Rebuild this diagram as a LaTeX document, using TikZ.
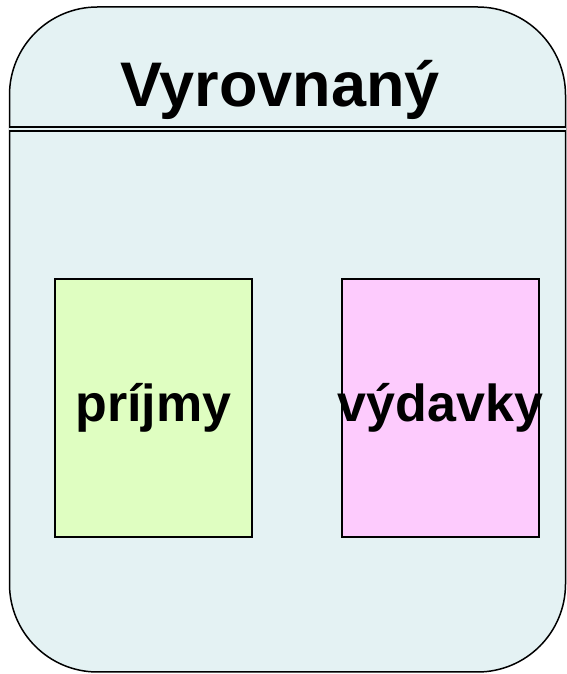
\documentclass[tikz,border=0pt]{standalone}
\usepackage{fontspec}
\setmainfont{Liberation Sans}
\usepackage{tikz}
\definecolor{panelbg}{HTML}{E4F2F3}
\definecolor{incomebg}{HTML}{DFFEC1}
\definecolor{spendbg}{HTML}{FDCBFD}
\newcommand{\boxtext}[1]{\makebox[0pt]{#1}}
\begin{document}
\begin{tikzpicture}[x=1pt,y=1pt,
    panel/.style={draw=black,line width=1.5pt,fill=panelbg,
      rounded corners=88pt,minimum width=556pt,minimum height=665pt,
      inner sep=0pt},
    budgetbox/.style={draw=black,line width=1.2pt,minimum width=197pt,
      minimum height=258pt,inner sep=0pt,font=\fontsize{52}{60}\selectfont\bfseries},
    divider/.style={line width=1.4pt,double=panelbg,double distance=2.6pt}]
    \useasboundingbox (0,0) rectangle (566,674);
    \node[panel] (P) at (287.5,334.5) {};
    \node[anchor=base,font=\fontsize{63}{70}\selectfont\bfseries]
      (T) at (280,567) {Vyrovnaný};
    \coordinate (dl) at (P.west |- 0,545);
    \coordinate (dr) at (P.east |- 0,545);
    \draw[divider] (dl) -- (dr);
    \node[budgetbox,fill=incomebg] (I) at (153.5,266) {\boxtext{príjmy}};
    \node[budgetbox,fill=spendbg] (E) at (440.5,266) {\boxtext{výdavky}};
\end{tikzpicture}
\end{document}
